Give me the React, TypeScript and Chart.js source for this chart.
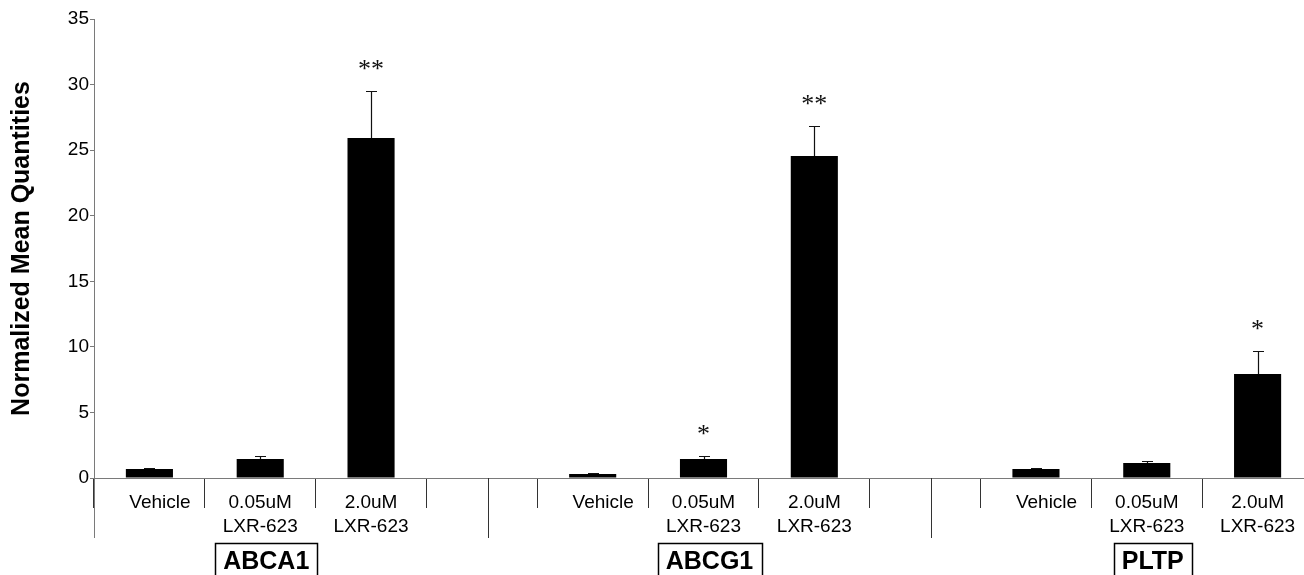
import React, { useEffect, useRef } from "react";
import { Chart, registerables } from "chart.js";

Chart.register(...registerables);

const categories: (string | string[])[] = [
  "    Vehicle", ["0.05uM", "LXR-623"], ["2.0uM", "LXR-623"], "",
  "    Vehicle", ["0.05uM", "LXR-623"], ["2.0uM", "LXR-623"], "",
  "    Vehicle", ["0.05uM", "LXR-623"], ["2.0uM", "LXR-623"],
];
const values: (number | null)[] = [0.69, 1.45, 25.93, null, 0.3, 1.45, 24.55, null, 0.69, 1.14, 7.93];
const errors: (number | null)[] = [0.07, 0.23, 3.58, null, 0.08, 0.23, 2.29, null, 0.07, 0.15, 1.75];
const stars: string[] = ["", "", "**", "", "", "*", "**", "", "", "", "*"];
const groups: string[] = ["ABCA1", "ABCG1", "PLTP"];
const groupCenters: number[] = [1, 5, 9];
const groupDividers: number[] = [3, 7];
const yTicks: number[] = [0, 5, 10, 15, 20, 25, 30, 35];

const SANS = '"Liberation Sans", Arial, Helvetica, sans-serif';
const AXIS_GRAY = "#7a7a7a";
const SEP = "#333333";
const GROUP_SHIFT = 6;

const decor = {
  id: "decor",
  afterDraw(chart: any) {
    const { ctx, scales } = chart;
    const x = scales.x;
    const y = scales.y;
    const meta = chart.getDatasetMeta(0);
    ctx.save();
    values.forEach((v, i) => {
      if (v == null) return;
      const el = meta.data[i];
      const top = y.getPixelForValue(v + (errors[i] || 0));
      const cx = Math.round(el.x) + 0.5;
      ctx.strokeStyle = "#111";
      ctx.lineWidth = 1.2;
      ctx.beginPath();
      ctx.moveTo(cx, el.y);
      ctx.lineTo(cx, top);
      ctx.moveTo(cx - 5.5, Math.round(top) + 0.5);
      ctx.lineTo(cx + 5.5, Math.round(top) + 0.5);
      ctx.stroke();
      if (stars[i]) {
        ctx.fillStyle = "#111";
        ctx.font = '26px "Liberation Serif", "Times New Roman", serif';
        ctx.textAlign = "center";
        ctx.textBaseline = "alphabetic";
        ctx.fillText(stars[i], el.x, top - 14);
      }
    });
    const y0 = y.getPixelForValue(0);
    const longBottom = y0 + 60;
    ctx.strokeStyle = AXIS_GRAY;
    ctx.lineWidth = 1;
    ctx.beginPath();
    const ax = Math.round(x.left) + 0.5;
    ctx.moveTo(ax, y0);
    ctx.lineTo(ax, longBottom);
    ctx.stroke();
    ctx.strokeStyle = SEP;
    groupDividers.forEach((d) => {
      const px = Math.round(x.getPixelForValue(d) + GROUP_SHIFT) + 0.5;
      ctx.beginPath();
      ctx.moveTo(px, y0);
      ctx.lineTo(px, longBottom);
      ctx.stroke();
    });
    ctx.font = `bold 25px ${SANS}`;
    ctx.textAlign = "center";
    ctx.textBaseline = "alphabetic";
    groups.forEach((g, i) => {
      const cx = x.getPixelForValue(groupCenters[i]) + GROUP_SHIFT;
      const tw = ctx.measureText(g).width;
      const bw = tw + 16;
      ctx.fillStyle = "#000";
      ctx.fillText(g, cx, y0 + 91);
      ctx.strokeStyle = "#000";
      ctx.lineWidth = 1.5;
      ctx.strokeRect(Math.round(cx - bw / 2) + 0.5, y0 + 65.5, Math.round(bw), 40);
    });
    ctx.restore();
  },
};

export default function App() {
  const ref = useRef<HTMLCanvasElement>(null);
  useEffect(() => {
    if (!ref.current) return;
    const chart = new Chart(ref.current, {
      type: "bar",
      data: {
        labels: categories,
        datasets: [
          {
            data: values,
            backgroundColor: "#000",
            borderWidth: 0,
            barPercentage: 0.425,
            categoryPercentage: 1,
          },
        ],
      },
      options: {
        responsive: false,
        animation: false,
        layout: { padding: { left: 0, right: 7, top: 19, bottom: 0 } },
        plugins: { legend: { display: false }, tooltip: { enabled: false } },
        scales: {
          x: {
            type: "category",
            offset: true,
            afterFit: (s: any) => {
              s.height = 97;
            },
            grid: {
              offset: true,
              drawOnChartArea: false,
              drawTicks: true,
              tickLength: 30,
              color: SEP,
            },
            border: { display: true, color: AXIS_GRAY, width: 1 },
            ticks: {
              padding: -17,
              maxRotation: 0,
              autoSkip: false,
              color: "#000",
              font: { family: SANS, size: 19, lineHeight: 1.263 },
            },
          },
          y: {
            min: 0,
            max: 35,
            afterFit: (s: any) => {
              s.width = 94;
            },
            afterBuildTicks: (s: any) => {
              s.ticks = yTicks.map((v) => ({ value: v }));
            },
            grid: { drawOnChartArea: false, drawTicks: true, tickLength: 4, color: AXIS_GRAY },
            border: { display: true, color: AXIS_GRAY, width: 1 },
            ticks: {
              padding: 1,
              color: "#000",
              font: { family: SANS, size: 19 },
            },
            title: {
              display: true,
              text: "Normalized Mean Quantities",
              color: "#000",
              padding: { top: 7, bottom: 0 },
              font: { family: SANS, size: 25, weight: "bold", lineHeight: 1.2 },
            },
          },
        },
      },
      plugins: [decor],
    } as any);
    return () => chart.destroy();
  }, []);
  return (
    <div
      style={{
        position: "fixed",
        left: 0,
        top: 0,
        width: 1304,
        height: 575,
        overflow: "hidden",
        background: "#fff",
      }}
    >
      <canvas ref={ref} width={1320} height={575} style={{ display: "block" }} />
    </div>
  );
}
